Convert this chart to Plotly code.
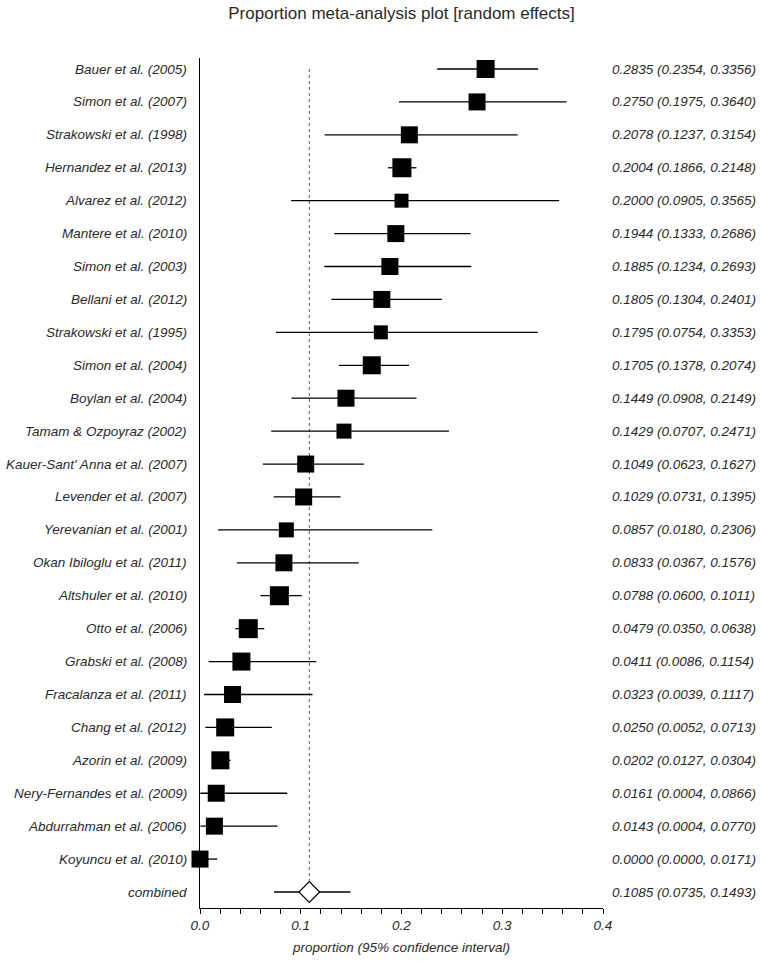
import plotly.graph_objects as go

studies = [
    "Bauer et al. (2005)", "Simon et al. (2007)", "Strakowski et al. (1998)",
    "Hernandez et al. (2013)", "Alvarez et al. (2012)", "Mantere et al. (2010)",
    "Simon et al. (2003)", "Bellani et al. (2012)", "Strakowski et al. (1995)",
    "Simon et al. (2004)", "Boylan et al. (2004)", "Tamam & Ozpoyraz (2002)",
    "Kauer-Sant' Anna et al. (2007)", "Levender et al. (2007)", "Yerevanian et al. (2001)",
    "Okan Ibiloglu et al. (2011)", "Altshuler et al. (2010)", "Otto et al. (2006)",
    "Grabski et al. (2008)", "Fracalanza et al. (2011)", "Chang et al. (2012)",
    "Azorin et al. (2009)", "Nery-Fernandes et al. (2009)", "Abdurrahman et al. (2006)",
    "Koyuncu et al. (2010)",
]
proportion = [0.2835, 0.2750, 0.2078, 0.2004, 0.2000, 0.1944, 0.1885, 0.1805, 0.1795,
              0.1705, 0.1449, 0.1429, 0.1049, 0.1029, 0.0857, 0.0833, 0.0788, 0.0479,
              0.0411, 0.0323, 0.0250, 0.0202, 0.0161, 0.0143, 0.0000]
ci_low = [0.2354, 0.1975, 0.1237, 0.1866, 0.0905, 0.1333, 0.1234, 0.1304, 0.0754,
          0.1378, 0.0908, 0.0707, 0.0623, 0.0731, 0.0180, 0.0367, 0.0600, 0.0350,
          0.0086, 0.0039, 0.0052, 0.0127, 0.0004, 0.0004, 0.0000]
ci_high = [0.3356, 0.3640, 0.3154, 0.2148, 0.3565, 0.2686, 0.2693, 0.2401, 0.3353,
           0.2074, 0.2149, 0.2471, 0.1627, 0.1395, 0.2306, 0.1576, 0.1011, 0.0638,
           0.1154, 0.1117, 0.0713, 0.0304, 0.0866, 0.0770, 0.0171]
# relative study weight (box size)
rel_weight = [18, 17, 17, 19, 14, 17, 17, 17, 14, 18, 17, 15, 17, 17, 15, 17, 19, 19,
              18, 17, 18, 18, 17, 17, 17]

combined_label = "combined"
combined_prop = 0.1085
combined_low = 0.0735
combined_high = 0.1493

x_ticks = [0.0, 0.1, 0.2, 0.3, 0.4]

n = len(studies)
rows = list(range(n))
comb_row = n

TXT = "#2a2a2a"
FONT = "Liberation Sans, Arial, sans-serif"
FS = 13.5

fig = go.Figure()

fig.add_trace(go.Scatter(
    x=proportion, y=rows, mode="markers",
    marker=dict(symbol="square", size=rel_weight, color="black", opacity=1,
                line=dict(width=0)),
    error_x=dict(type="data", symmetric=False,
                 array=[h - p for p, h in zip(proportion, ci_high)],
                 arrayminus=[p - l for p, l in zip(proportion, ci_low)],
                 color="black", thickness=1.3, width=0),
    cliponaxis=False, showlegend=False, hoverinfo="skip",
))

fig.add_trace(go.Scatter(
    x=[combined_prop], y=[comb_row], mode="markers",
    marker=dict(symbol="diamond", size=16, color="white", opacity=1,
                line=dict(width=1.2, color="black")),
    error_x=dict(type="data", symmetric=False,
                 array=[combined_high - combined_prop],
                 arrayminus=[combined_prop - combined_low],
                 color="black", thickness=1.3, width=0),
    cliponaxis=False, showlegend=False, hoverinfo="skip",
))

# dotted reference line at pooled estimate
fig.add_shape(type="line", x0=combined_prop, x1=combined_prop, y0=0, y1=comb_row - 0.33,
              xref="x", yref="y", line=dict(color="#555555", width=1, dash="dot"), layer="below")

annotations = []
labels = studies + [combined_label]
props_all = proportion + [combined_prop]
lows_all = ci_low + [combined_low]
highs_all = ci_high + [combined_high]
for i, (lab, p, l, h) in enumerate(zip(labels, props_all, lows_all, highs_all)):
    annotations.append(dict(x=0, y=i, xref="x", yref="y", text=lab, showarrow=False,
                            xanchor="right", yanchor="middle", xshift=-11,
                            font=dict(family=FONT, size=FS, color=TXT, style="italic")))
    annotations.append(dict(x=0.4, y=i, xref="x", yref="y",
                            text=f"{p:.4f} ({l:.4f}, {h:.4f})", showarrow=False,
                            xanchor="left", yanchor="middle", xshift=7,
                            font=dict(family=FONT, size=FS, color=TXT, style="italic")))

fig.update_layout(
    width=761, height=961,
    margin=dict(l=200, r=158, t=58, b=53, autoexpand=False),
    paper_bgcolor="white", plot_bgcolor="white",
    title=dict(text="Proportion meta-analysis plot [random effects]",
               x=0.5, xanchor="center", xref="paper", y=1 - 13 / 961, yref="container",
               yanchor="middle", font=dict(family=FONT, size=17, color=TXT)),
    annotations=annotations,
    xaxis=dict(range=[0, 0.4], showline=True, linecolor="black", linewidth=1,
               automargin=False,
               showgrid=False, zeroline=False, ticks="outside", ticklen=5, tickwidth=1,
               tickcolor="black", tickvals=x_ticks, tickformat=".1f",
               minor=dict(dtick=0.02, tick0=0, ticks="outside", ticklen=5, tickcolor="black",
                          tickwidth=1, showgrid=False),
               tickfont=dict(family=FONT, size=FS, color=TXT, style="italic"),
               title=dict(text="proportion (95% confidence interval)", standoff=10,
                          font=dict(family=FONT, size=FS, color=TXT, style="italic"))),
    yaxis=dict(range=[comb_row + 0.486, -0.334], showline=True, linecolor="black",
               automargin=False,
               linewidth=1, showgrid=False, zeroline=False, showticklabels=False,
               ticks=""),
)

fig.write_html("out.html", config={"displayModeBar": False},
               post_script="document.body.style.margin='0';")
